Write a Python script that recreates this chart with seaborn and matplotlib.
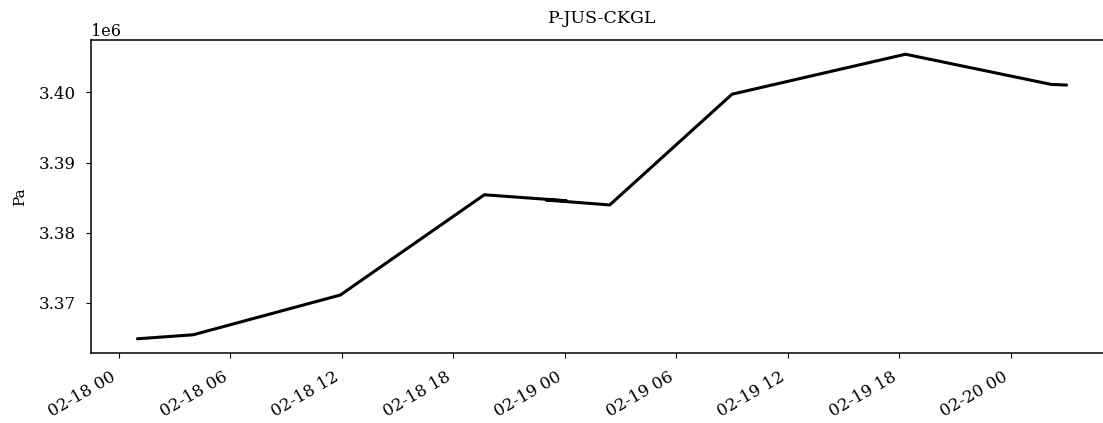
import matplotlib
matplotlib.use("Agg")
import matplotlib.pyplot as plt
import matplotlib.dates as mdates
import matplotlib.ticker as mticker
import pandas as pd
import seaborn as sns

# Pressure readings for station P-JUS-CKGL
timestamps = [
    "2021-02-18 01:00", "2021-02-18 04:00", "2021-02-18 11:55",
    "2021-02-18 19:40", "2021-02-19 00:05", "2021-02-18 23:00",
    "2021-02-19 02:25", "2021-02-19 09:00", "2021-02-19 18:20",
    "2021-02-20 02:10", "2021-02-20 03:00",
]
pressure_pa = [
    3364860, 3365430, 3371100,
    3385400, 3384550, 3384650,
    3383950, 3399750, 3405450,
    3401150, 3401050,
]

df = pd.DataFrame({"time": pd.to_datetime(timestamps), "Pa": pressure_pa})

sns.set_style("ticks")
plt.rcParams["font.family"] = ["DejaVu Serif"]
plt.rcParams["axes.linewidth"] = 1.1
plt.rcParams["text.color"] = "black"
plt.rcParams["axes.labelcolor"] = "black"
plt.rcParams["xtick.color"] = "black"
plt.rcParams["ytick.color"] = "black"

fig = plt.figure(figsize=(11.03, 4.23), dpi=100)
ax = fig.add_axes([91 / 1103, 70 / 423, 1022 / 1103, 313 / 423])

sns.lineplot(data=df, x="time", y="Pa", sort=False, color="black",
             linewidth=2.2, ax=ax)

ax.xaxis.set_major_locator(mdates.HourLocator(byhour=[0, 6, 12, 18]))
ax.xaxis.set_major_formatter(mdates.DateFormatter("%m-%d %H"))
ax.yaxis.set_major_locator(mticker.MultipleLocator(10000))
ax.tick_params(labelsize=12, pad=7.5)
for lbl in ax.get_xticklabels():
    lbl.set_rotation(30)
    lbl.set_ha("right")

ax.set_xlabel("")
ax.set_ylabel("Pa", fontsize=11, labelpad=8)
ax.set_title("P-JUS-CKGL", fontsize=12.5, pad=12.5)
ax.yaxis.get_offset_text().set_fontsize(11.5)
ax.yaxis.get_offset_text().set_y(1.01)
for sp in ax.spines.values():
    sp.set_color("black")

fig.savefig("out.png", dpi=100)
